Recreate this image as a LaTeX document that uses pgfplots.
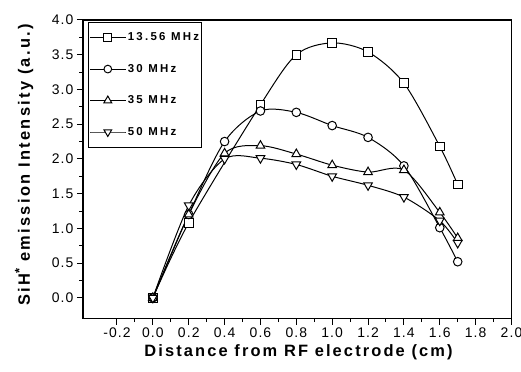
\documentclass[border=0pt]{standalone}
\usepackage{pgfplots}
\pgfplotsset{compat=1.18}
\usepackage{fontspec}
\setmainfont{Liberation Sans}
\newfontfamily\tickfont[LetterSpace=8]{Liberation Sans}
\newfontfamily\xlabfont[LetterSpace=13]{Liberation Sans}
\newfontfamily\ylabfont[LetterSpace=14]{Liberation Sans}
\newfontfamily\legfont[LetterSpace=20]{Liberation Sans}
\begin{document}
\begin{tikzpicture}
\begin{axis}[
  name=ax,
  scale only axis,
  width=429bp, height=299bp,
  xmin=-0.39, xmax=2.0, ymin=-0.3, ymax=4.0,
  xtick={-0.2,0,0.2,0.4,0.6,0.8,1.0,1.2,1.4,1.6,1.8,2.0},
  ytick={0,0.5,1,1.5,2,2.5,3,3.5,4},
  minor x tick num=1, minor y tick num=1,
  xtick pos=bottom, ytick pos=left,
  tick align=outside,
  major tick length=6bp, minor tick length=3.5bp,
  every tick/.style={black, line width=1pt},
  axis line style={line width=1.3pt},
  /pgf/number format/assume math mode=true,
  xticklabel style={/pgf/number format/.cd, fixed, fixed zerofill, precision=1},
  yticklabel style={/pgf/number format/.cd, fixed, fixed zerofill, precision=1},
  tick label style={font=\tickfont\fontsize{14}{16}\selectfont},
  xlabel={\xlabfont\bfseries\fontsize{16.5}{18}\selectfont Distance from RF electrode (cm)},
  ylabel={\ylabfont\bfseries\fontsize{16.5}{18}\selectfont SiH\raisebox{6bp}{\fontsize{13}{13}\selectfont *} emission Intensity (a.u.)},
  xlabel style={at={(axis description cs:0.503,-0.112)}, anchor=center},
  ylabel style={at={(axis description cs:-0.137,0.515)}, anchor=center},
  legend style={at={(0.0117,0.9933)}, anchor=north west, draw=black, line width=0.8pt,
    font=\legfont\bfseries\fontsize{11.5}{12}\selectfont, row sep=19bp, inner xsep=1bp, inner ysep=9bp,
    nodes={inner sep=1.5bp}},
  legend cell align=left,
  legend image code/.code={\draw[#1, every mark/.append style={scale=0.9}, mark repeat=2, mark phase=2] plot coordinates {(0bp,0bp) (18bp,0bp) (36bp,0bp)};},
]
\addplot[black, line width=1pt, smooth, tension=0.5, mark=square*, mark size=4.3bp, mark options={fill=white, solid, line width=1pt}] coordinates {
(0,0) (0.2,1.08) (0.6,2.78) (0.8,3.50) (1.0,3.67) (1.2,3.54) (1.4,3.09) (1.6,2.18) (1.7,1.63)};
\addlegendentry{13.56 MHz\hspace{9bp}}
\addplot[black, line width=1pt, smooth, tension=0.5, mark=*, mark size=4.3bp, mark options={fill=white, solid, line width=1pt}] coordinates {
(0,0) (0.2,1.2) (0.4,2.25) (0.6,2.69) (0.8,2.67) (1.0,2.48) (1.2,2.31) (1.4,1.90) (1.6,1.01) (1.7,0.52)};
\addlegendentry{30 MHz}
\addplot[black, line width=1pt, smooth, tension=0.5, mark=triangle*, mark size=5bp, mark options={fill=white, solid, line width=1pt}] coordinates {
(0,0) (0.2,1.2) (0.4,2.08) (0.6,2.19) (0.8,2.07) (1.0,1.91) (1.2,1.81) (1.4,1.84) (1.6,1.23) (1.7,0.86)};
\addlegendentry{35 MHz}
\addplot[black, line width=1pt, smooth, tension=0.5, mark=triangle*, mark size=5bp, mark options={fill=white, solid, line width=1pt, rotate=180}] coordinates {
(0,0) (0.2,1.33) (0.4,2.0) (0.6,2.01) (0.8,1.92) (1.0,1.75) (1.2,1.62) (1.4,1.45) (1.6,1.11) (1.7,0.79)};
\addlegendentry{50 MHz}
\end{axis}
\pgfresetboundingbox
\path[use as bounding box] ([shift={(-83bp,-53bp)}]ax.south west) rectangle ([shift={(9.5bp,20bp)}]ax.north east);
\end{tikzpicture}
\end{document}
